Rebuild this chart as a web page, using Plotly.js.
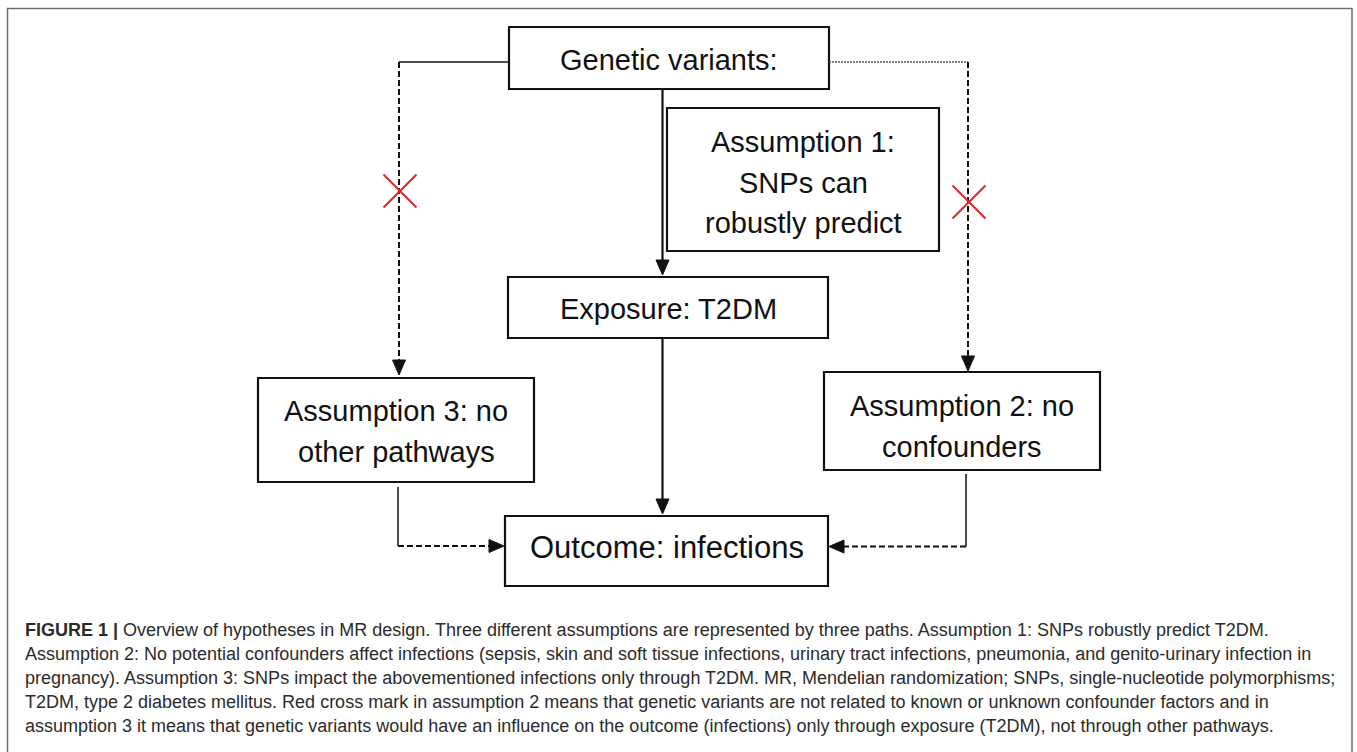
<!DOCTYPE html>
<html>
<head>
<meta charset="utf-8">
<script src="https://cdn.plot.ly/plotly-3.0.1.min.js"></script>
<style>
  html, body { margin: 0; padding: 0; background: #ffffff; }
  #chart { width: 1357px; height: 752px; }
</style>
</head>
<body>
<div id="chart"></div>
<script>
// ---- content (text) ----
const nodeIds = ['genetic', 'assump1', 'exposure', 'assump3', 'assump2', 'outcome'];
const nodeLines = [
  ['Genetic variants:'],
  ['Assumption 1:', 'SNPs can', 'robustly predict'],
  ['Exposure: T2DM'],
  ['Assumption 3: no', 'other pathways'],
  ['Assumption 2: no', 'confounders'],
  ['Outcome: infections']
];
const captionBold = 'FIGURE 1 |';
const captionLines = [
  ' Overview of hypotheses in MR design. Three different assumptions are represented by three paths. Assumption 1: SNPs robustly predict T2DM.',
  'Assumption 2: No potential confounders affect infections (sepsis, skin and soft tissue infections, urinary tract infections, pneumonia, and genito-urinary infection in',
  'pregnancy). Assumption 3: SNPs impact the abovementioned infections only through T2DM. MR, Mendelian randomization; SNPs, single-nucleotide polymorphisms;',
  'T2DM, type 2 diabetes mellitus. Red cross mark in assumption 2 means that genetic variants are not related to known or unknown confounder factors and in',
  'assumption 3 it means that genetic variants would have an influence on the outcome (infections) only through exposure (T2DM), not through other pathways.'
];

// ---- layout geometry (pixel-like axis units, y downwards) ----
const boxGeom = {
  genetic:  {x0: 509, x1: 829, y0: 27,  y1: 89,  lineY: [60],            size: 29},
  assump1:  {x0: 667, x1: 939, y0: 108, y1: 251, lineY: [142, 183, 223], size: 29},
  exposure: {x0: 508, x1: 828, y0: 277, y1: 338, lineY: [309],           size: 29},
  assump3:  {x0: 258, x1: 534, y0: 378, y1: 482, lineY: [411, 452],      size: 29},
  assump2:  {x0: 824, x1: 1100, y0: 372, y1: 470, lineY: [406, 447],     size: 29},
  outcome:  {x0: 505, x1: 828, y0: 516, y1: 586, lineY: [547],           size: 31}
};

const shapes = [];
const annotations = [];

// outer frame
shapes.push({type: 'rect', xref: 'x', yref: 'y', x0: 7.5, x1: 1352, y0: 8.5, y1: 770,
  line: {color: '#6e6e6e', width: 1.5}, fillcolor: 'rgba(0,0,0,0)', layer: 'below'});

// boxes & text
nodeIds.forEach((id, i) => {
  const g = boxGeom[id];
  shapes.push({type: 'rect', xref: 'x', yref: 'y', x0: g.x0, x1: g.x1, y0: g.y0, y1: g.y1,
    line: {color: '#111111', width: 2.2}, fillcolor: '#ffffff'});
  nodeLines[i].forEach((t, k) => {
    annotations.push({xref: 'x', yref: 'y', x: (g.x0 + g.x1) / 2, y: g.lineY[k], text: t,
      showarrow: false, xanchor: 'center', yanchor: 'middle',
      font: {family: 'Liberation Sans, Arial, sans-serif', size: g.size, color: '#111111'}});
  });
});

function seg(x0, y0, x1, y1, width, dash, color) {
  shapes.push({type: 'line', xref: 'x', yref: 'y', x0, y0, x1, y1,
    line: {color: color || '#111111', width, dash: dash || 'solid'}});
}
function head(tx, ty, dir) {
  // filled arrowhead, tip at (tx,ty)
  const L = 15, W = 6.5;
  let p;
  if (dir === 'down') p = `M${tx},${ty} L${tx - W},${ty - L} L${tx + W},${ty - L} Z`;
  if (dir === 'right') p = `M${tx},${ty} L${tx - L},${ty - W} L${tx - L},${ty + W} Z`;
  if (dir === 'left') p = `M${tx},${ty} L${tx + L},${ty - W} L${tx + L},${ty + W} Z`;
  shapes.push({type: 'path', xref: 'x', yref: 'y', path: p,
    line: {color: '#111111', width: 1}, fillcolor: '#111111'});
}
function cross(cx, cy, r) {
  seg(cx - r, cy - r, cx + r, cy + r, 2, 'solid', '#e3232c');
  seg(cx - r, cy + r, cx + r, cy - r, 2, 'solid', '#e3232c');
}

const DASH = '6px,3px';
// central path: genetic -> exposure -> outcome
seg(662.5, 89, 662.5, 262, 2.2);
head(662.5, 275, 'down');
seg(662.5, 338, 662.5, 502, 2.2);
head(662.5, 514, 'down');

// left path: genetic -> assumption 3
seg(509, 62, 399, 62, 1.6);
seg(399, 62, 399, 362, 2, DASH);
head(399, 375, 'down');
cross(400, 191, 16.5);

// right path: genetic -> assumption 2
seg(829, 62, 968, 62, 1.4, '2px,1px', '#555555');
seg(968, 62, 968, 358, 2, DASH);
head(968, 371, 'down');
cross(969, 202, 16.5);

// assumption 3 -> outcome
seg(398, 487, 398, 546, 1.5);
seg(398, 546, 492, 546, 2, DASH);
head(504, 546, 'right');

// assumption 2 -> outcome
seg(966, 474, 966, 546.5, 1.5);
seg(966, 546.5, 842, 546.5, 2, DASH);
head(829, 546.5, 'left');

// caption
const capY = [630, 654, 678, 702, 726];
captionLines.forEach((t, k) => {
  const txt = k === 0 ? '<b>' + captionBold + '</b>' + t : t;
  annotations.push({xref: 'x', yref: 'y', x: 23, y: capY[k], text: txt,
    showarrow: false, xanchor: 'left', yanchor: 'middle',
    font: {family: 'Liberation Sans, Arial, sans-serif', size: 18, color: '#2b2b2b'}});
});

const layout = {
  width: 1357, height: 752,
  margin: {l: 0, r: 0, t: 0, b: 0, pad: 0},
  paper_bgcolor: '#ffffff', plot_bgcolor: '#ffffff',
  xaxis: {range: [0, 1357], visible: false, fixedrange: true},
  yaxis: {range: [752, 0], visible: false, fixedrange: true},
  showlegend: false,
  shapes, annotations
};

Plotly.newPlot('chart', [{x: [], y: [], type: 'scatter', mode: 'markers', hoverinfo: 'skip'}], layout,
  {staticPlot: true, displayModeBar: false});
</script>
</body>
</html>
